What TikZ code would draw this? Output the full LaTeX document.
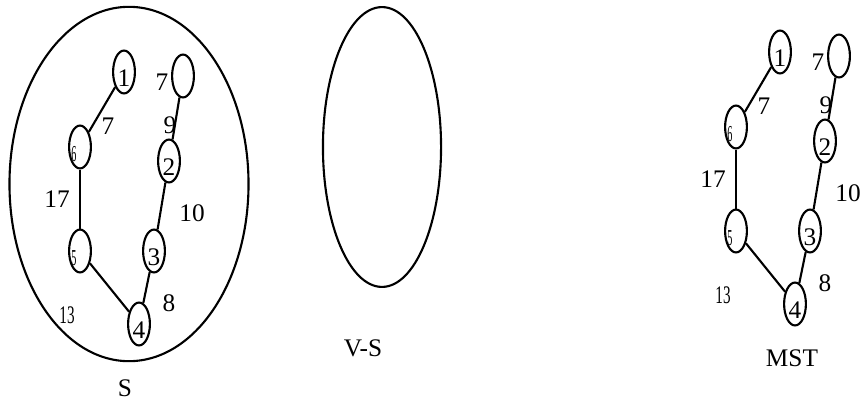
\documentclass[tikz,border=0pt]{standalone}
\usepackage{fontspec}
\setmainfont{Liberation Serif}
\usepackage{graphicx}
\usetikzlibrary{shapes.geometric}
\begin{document}
\begin{tikzpicture}[x=0.025cm, y=-0.025cm, line width=1.5pt,
  vert/.style={draw, ellipse, inner sep=0pt, minimum width=15.5pt, minimum height=30.5pt,
    text height=21pt, text depth=0pt, font=\fontsize{18}{18}\selectfont},
  wt/.style={inner sep=0pt, font=\fontsize{18}{18}\selectfont},
  setbox/.style={draw, ellipse, inner sep=0pt}]
\useasboundingbox (0,0) rectangle (860,402);
% the two sets
\node[setbox, minimum width=170pt, minimum height=252pt] (setS) at (129,184) {};
\node[setbox, minimum width=84pt, minimum height=199pt] (setVS) at (382,147) {};
\node[wt] (nameS) at (125,388) {S};
\node[wt] (nameVS) at (363,348) {V-S};
\node[wt] (nameMST) at (792,358) {MST};
% same tree drawn in S and as MST
\foreach \g/\gx/\gy in {s/0/0, m/656/-20} {
\begin{scope}[shift={(\gx,\gy)}]
\node[vert] (\g1) at (124,72) {1};
\node[vert] (\g7) at (183,76) {};
\node[vert] (\g6) at (80,147) {\makebox[0pt][r]{\scalebox{0.4}[0.9]{6}\kern2.5pt}};
\node[vert] (\g2) at (169,161) {2};
\node[vert] (\g5) at (80,251) {\makebox[0pt][r]{\scalebox{0.4}[0.9]{5}\kern2.5pt}};
\node[vert] (\g3) at (154,251) {3};
\node[vert] (\g4) at (139,324) {4};
\draw (\g1) -- (\g6);
\draw (\g7) -- (\g2);
\draw (\g2) -- (\g3);
\draw (\g6) -- (\g5);
\draw (\g5) -- (\g4);
\draw (\g3) -- (\g4);
\node[wt] (\g w7a) at (162,82) {7};
\node[wt] (\g w7b) at (108,126) {7};
\node[wt] (\g w9) at (170,125) {9};
\node[wt] (\g w17) at (57,199) {17};
\node[wt] (\g w10) at (192,213) {10};
\node[wt] (\g w8) at (169,303) {8};
\node[wt] (\g w13) at (67,315) {\scalebox{0.6}[1]{13}};
\end{scope}
}
\end{tikzpicture}
\end{document}
